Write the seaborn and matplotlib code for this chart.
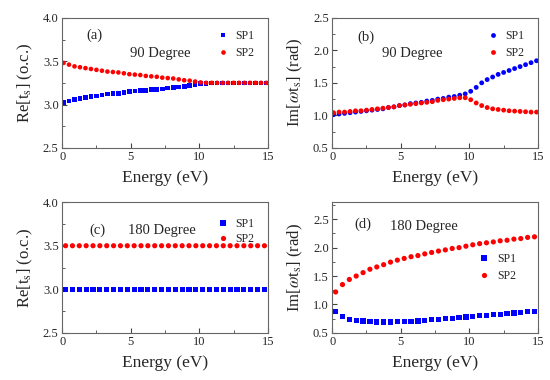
"""
Recreate the 2x2 SP1/SP2 energy panels (90 and 180 degree cases).
"""

import pandas as pd
import seaborn as sns
import matplotlib.pyplot as plt
from matplotlib.ticker import AutoMinorLocator

# energy grid of the 90 degree panels (a), (b)
energy_90 = [0.1, 0.5, 0.9, 1.3, 1.7, 2.1, 2.5, 2.9, 3.3, 3.7, 4.1, 4.5, 4.9,
             5.3, 5.7, 6.1, 6.5, 6.9, 7.3, 7.7, 8.1, 8.5, 8.9, 9.3, 9.7, 10.1,
             10.5, 10.9, 11.3, 11.7, 12.1, 12.5, 12.9, 13.3, 13.7, 14.1, 14.5, 14.9]

re_sp1_90 = [3.02, 3.04, 3.06, 3.07, 3.08, 3.09, 3.10, 3.11, 3.12, 3.125, 3.13,
             3.14, 3.15, 3.155, 3.16, 3.165, 3.17, 3.175, 3.18, 3.19, 3.195,
             3.20, 3.21, 3.22, 3.23, 3.24, 3.245, 3.25, 3.25, 3.25, 3.25, 3.25,
             3.25, 3.25, 3.25, 3.25, 3.25, 3.25]
re_sp2_90 = [3.48, 3.46, 3.44, 3.43, 3.42, 3.41, 3.40, 3.39, 3.38, 3.375, 3.37,
             3.36, 3.35, 3.345, 3.34, 3.33, 3.325, 3.32, 3.31, 3.305, 3.30,
             3.29, 3.28, 3.275, 3.265, 3.255, 3.25, 3.25, 3.25, 3.25, 3.25,
             3.25, 3.25, 3.25, 3.25, 3.25, 3.25, 3.25]

im_sp1_90 = [1.01, 1.02, 1.03, 1.04, 1.05, 1.06, 1.07, 1.08, 1.09, 1.10, 1.12,
             1.13, 1.15, 1.16, 1.18, 1.19, 1.20, 1.22, 1.23, 1.25, 1.26, 1.28,
             1.29, 1.31, 1.33, 1.37, 1.43, 1.50, 1.55, 1.59, 1.63, 1.66, 1.69,
             1.72, 1.75, 1.78, 1.81, 1.84]
im_sp2_90 = [1.04, 1.05, 1.05, 1.06, 1.07, 1.07, 1.08, 1.09, 1.10, 1.11, 1.12,
             1.13, 1.15, 1.16, 1.17, 1.18, 1.19, 1.20, 1.21, 1.23, 1.24, 1.25,
             1.26, 1.27, 1.27, 1.24, 1.19, 1.15, 1.12, 1.10, 1.09, 1.08, 1.07,
             1.065, 1.06, 1.055, 1.05, 1.05]

# energy grid of the 180 degree panels (c), (d)
energy_180 = [0.25, 0.75, 1.25, 1.75, 2.25, 2.75, 3.25, 3.75, 4.25, 4.75, 5.25,
              5.75, 6.25, 6.75, 7.25, 7.75, 8.25, 8.75, 9.25, 9.75, 10.25,
              10.75, 11.25, 11.75, 12.25, 12.75, 13.25, 13.75, 14.25, 14.75]

re_sp1_180 = [3.0] * 30
re_sp2_180 = [3.5] * 30

im_sp1_180 = [0.87, 0.79, 0.74, 0.72, 0.71, 0.70, 0.69, 0.69, 0.69, 0.695, 0.70,
              0.705, 0.71, 0.72, 0.73, 0.74, 0.75, 0.76, 0.77, 0.78, 0.79, 0.80,
              0.81, 0.82, 0.83, 0.84, 0.85, 0.86, 0.87, 0.88]
im_sp2_180 = [1.22, 1.35, 1.44, 1.50, 1.56, 1.62, 1.66, 1.70, 1.745, 1.78, 1.81,
              1.84, 1.86, 1.89, 1.915, 1.94, 1.96, 1.985, 2.00, 2.025, 2.05,
              2.07, 2.085, 2.10, 2.12, 2.13, 2.15, 2.16, 2.18, 2.19]

BLUE = "#0000ff"
RED = "#ff0000"


def make_frame(energy, sp1, sp2):
    """Long table with one row per point."""
    n = len(energy)
    return pd.DataFrame({
        "Energy": list(energy) * 2,
        "value": list(sp1) + list(sp2),
        "series": ["SP1"] * n + ["SP2"] * n,
    })


def draw_panel(ax, df, sp1_marker, size, ylim, yticks, ylabel, tag, tag_xy,
               deg, deg_xy, legend_loc, legend_anchor, spacing=0.45):
    sns.scatterplot(data=df, x="Energy", y="value", hue="series", style="series",
                    palette={"SP1": BLUE, "SP2": RED},
                    markers={"SP1": sp1_marker, "SP2": "o"},
                    s=size, linewidth=0, ax=ax)
    ax.set_xlim(0, 15)
    ax.set_ylim(*ylim)
    ax.set_xticks([0, 5, 10, 15])
    ax.set_yticks(yticks)
    ax.xaxis.set_minor_locator(AutoMinorLocator(2))
    ax.yaxis.set_minor_locator(AutoMinorLocator(2))
    ax.tick_params(which="both", direction="in", top=False, right=False,
                   labelsize=9, color="#444444", pad=2.5)
    ax.tick_params(which="major", length=3.5)
    ax.tick_params(which="minor", length=2)
    for sp in ax.spines.values():
        sp.set_visible(True)
        sp.set_color("#666666")
        sp.set_linewidth(0.8)
    ax.set_xlabel("Energy (eV)", fontsize=12.5, labelpad=5)
    ax.set_ylabel(ylabel, fontsize=12, labelpad=6)
    ax.text(*tag_xy, tag, transform=ax.transAxes, fontsize=10.5)
    ax.text(*deg_xy, deg, transform=ax.transAxes, fontsize=10.5)
    ax.legend(loc=legend_loc, bbox_to_anchor=legend_anchor, frameon=False,
              fontsize=8.5, handletextpad=0.1, labelspacing=spacing,
              borderaxespad=0.2, title=None)


def main():
    sns.set_style("ticks")
    plt.rcParams["font.family"] = ["Liberation Serif", "DejaVu Serif"]
    plt.rcParams["mathtext.fontset"] = "stix"

    fig = plt.figure(figsize=(5.5, 3.8), dpi=100)
    ax_a = fig.add_axes([0.113, 0.611, 0.374, 0.342])
    ax_b = fig.add_axes([0.604, 0.611, 0.374, 0.342])
    ax_c = fig.add_axes([0.113, 0.124, 0.374, 0.344])
    ax_d = fig.add_axes([0.604, 0.124, 0.374, 0.344])

    re_label = r"Re[t$_{\mathrm{s}}$] (o.c.)"
    im_label = r"Im[$\omega$t$_{\mathrm{s}}$] (rad)"

    draw_panel(ax_a, make_frame(energy_90, re_sp1_90, re_sp2_90), "s", 11,
               (2.5, 4.0), [2.5, 3.0, 3.5, 4.0], re_label,
               "(a)", (0.12, 0.84), "90 Degree", (0.33, 0.7),
               "upper right", (0.97, 0.96))
    draw_panel(ax_b, make_frame(energy_90, im_sp1_90, im_sp2_90), "o", 12,
               (0.5, 2.5), [0.5, 1.0, 1.5, 2.0, 2.5], im_label,
               "(b)", (0.12, 0.82), "90 Degree", (0.24, 0.7),
               "upper right", (0.97, 0.96))
    draw_panel(ax_c, make_frame(energy_180, re_sp1_180, re_sp2_180), "s", 14,
               (2.5, 4.0), [2.5, 3.0, 3.5, 4.0], re_label,
               "(c)", (0.13, 0.76), "180 Degree", (0.32, 0.76),
               "upper right", (0.97, 0.93), spacing=0.25)
    draw_panel(ax_d, make_frame(energy_180, im_sp1_180, im_sp2_180), "s", 14,
               (0.5, 2.8), [0.5, 1.0, 1.5, 2.0, 2.5], im_label,
               "(d)", (0.11, 0.8), "180 Degree", (0.28, 0.79),
               "center right", (0.93, 0.5))

    fig.savefig("out.png", dpi=100)
    plt.close(fig)


if __name__ == "__main__":
    main()
